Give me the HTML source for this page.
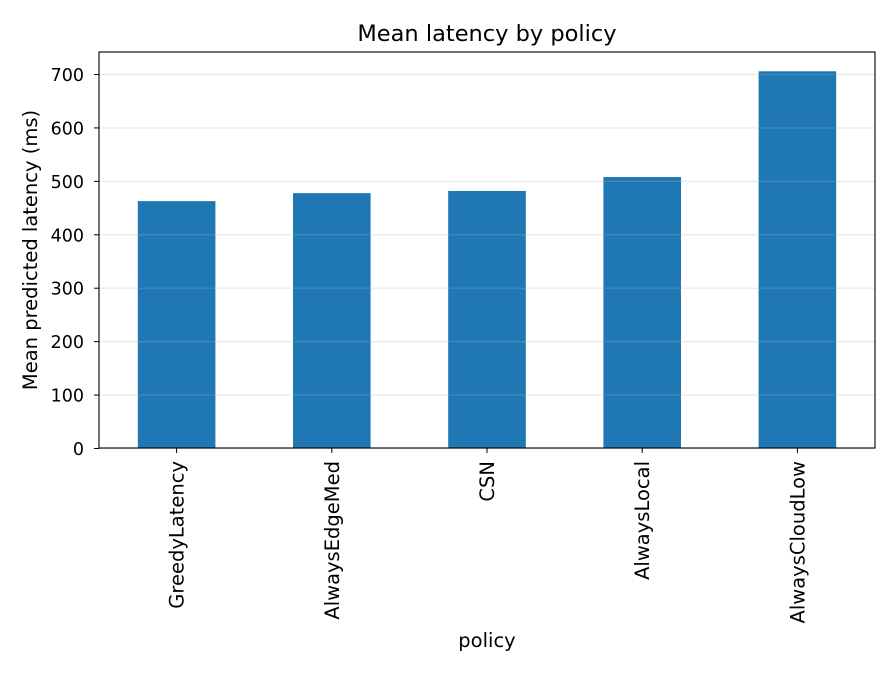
<!DOCTYPE html>
<html><head><meta charset="utf-8"><style>
body{margin:0;background:#fff}
svg text{font-family:"DejaVu Sans","Liberation Sans",sans-serif;fill:#000}
</style></head><body>
<svg id="chart" width="896" height="672" xmlns="http://www.w3.org/2000/svg">
<rect width="896" height="672" fill="#fff"/>
<text x="487" y="41" font-size="22.5" text-anchor="middle">Mean latency by policy</text>
<g id="bars"></g><g id="grid"></g><g id="yticks"></g><g id="xticks"></g>
<rect x="99" y="52" width="776" height="396" fill="none" stroke="#000" stroke-width="1.1"/>
<text transform="translate(37,250) rotate(-90)" font-size="19.5" text-anchor="middle">Mean predicted latency (ms)</text>
<text x="487" y="647" font-size="19.5" text-anchor="middle">policy</text>
</svg>
<script>
const categories=["GreedyLatency","AlwaysEdgeMed","CSN","AlwaysLocal","AlwaysCloudLow"];
const latencies=[463,478,482,508,706];
const yTicks=[0,100,200,300,400,500,600,700];
const NS="http://www.w3.org/2000/svg";
const x0=99,x1=875,yZero=448.5,scale=0.5343;
const y=v=>yZero-v*scale;
const band=(x1-x0)/categories.length;
const cx=i=>x0+band*(i+0.5);
function mk(t,a,p){const e=document.createElementNS(NS,t);for(const k in a)e.setAttribute(k,a[k]);document.getElementById(p).appendChild(e);return e;}
latencies.forEach((v,i)=>{
 const r=mk('rect',{x:cx(i)-band*0.25,y:y(v),width:band*0.5,height:yZero-y(v),fill:'#1f77b4'},'bars');
 
 
 const t=mk('line',{x1:cx(i),x2:cx(i),y1:448,y2:453,stroke:'#000'},'xticks');
 
 
 const l=mk('text',{transform:`translate(${cx(i)+7},461) rotate(-90)`,'font-size':'19.5','text-anchor':'end'},'xticks');
 l.textContent=categories[i];
 
 
});
yTicks.forEach(v=>{
 const g=mk('line',{x1:x0,x2:x1,y1:y(v),y2:y(v),stroke:'#b0b0b0','stroke-opacity':'0.3','stroke-width':'1.2'},'grid');
 
 
 const t=mk('line',{x1:94,x2:99,y1:y(v),y2:y(v),stroke:'#000'},'yticks');
 
 
 const l=mk('text',{x:84,y:y(v)+6.5,'font-size':'17.5','text-anchor':'end'},'yticks');
 l.textContent=v;
 
 
});
</script>
</body></html>
